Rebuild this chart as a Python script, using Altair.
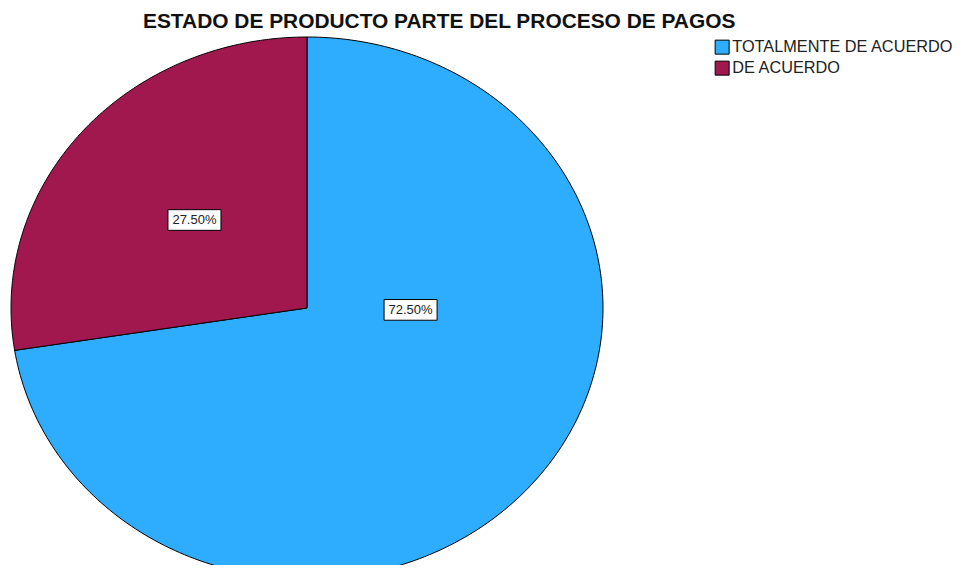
import altair as alt
import pandas as pd

categories = ["TOTALMENTE DE ACUERDO", "DE ACUERDO"]
values = [72.5, 27.5]
labels = ["72.50%", "27.50%"]
colors = ["#2EADFF", "#A0184E"]

df = pd.DataFrame({"category": categories, "value": values, "label": labels,
                   "order": list(range(len(categories)))})

FONT = "Liberation Sans"
PAD_TOP, PAD_RIGHT = 29, 8
W, H = 938, 557 - PAD_TOP
CX, CY, RX, RY = 299, 300 - PAD_TOP, 296, 271  # ellipse centre/radii in view pixels
xdom = [-CX / RX, (W - CX) / RX]
ydom = [-(H - CY) / RY, CY / RY]
xs = alt.Scale(domain=xdom, nice=False, zero=False)
ys = alt.Scale(domain=ydom, nice=False, zero=False)
N = 240

base = alt.Chart(df).transform_window(
    cum="sum(value)", sort=[{"field": "order"}], frame=[None, 0]
).transform_joinaggregate(total="sum(value)").transform_calculate(
    a0="2*PI*(datum.cum-datum.value)/datum.total",
    a1="2*PI*datum.cum/datum.total",
)

slices = base.transform_calculate(k=f"sequence(0, {N + 3})").transform_flatten(["k"]).transform_calculate(
    ang=f"datum.a0+(datum.a1-datum.a0)*clamp((datum.k-1)/{N},0,1)",
    rr=f"(datum.k==0||datum.k=={N + 2})?0:1",
).transform_calculate(
    px="datum.rr*sin(datum.ang)", py="datum.rr*cos(datum.ang)"
).mark_line(filled=True, stroke="black", strokeWidth=1, strokeJoin="round").encode(
    x=alt.X("px:Q", scale=xs, axis=None),
    y=alt.Y("py:Q", scale=ys, axis=None),
    order=alt.Order("k:Q"),
    detail="category:N",
    color=alt.Color(
        "category:N",
        scale=alt.Scale(domain=categories, range=colors),
        sort=categories,
        legend=alt.Legend(
            title=None, orient="none", legendX=706, legendY=31 - PAD_TOP,
            symbolType="square", symbolSize=196, symbolStrokeColor="black",
            symbolStrokeWidth=1, symbolOpacity=1,
            labelFontSize=16.3, labelFont=FONT, labelColor="#222222",
            labelOffset=2, labelLimit=400,
        ),
    ),
)

lab = base.transform_calculate(
    mid="(datum.a0+datum.a1)/2",
).transform_calculate(
    la="datum.value > 50 ? PI/2 + 0.02 : datum.mid",
    lr="datum.value > 50 ? 0.35 : 0.5",
).transform_calculate(
    lx="datum.lr*sin(datum.la)", ly="datum.lr*cos(datum.la)"
)

boxes = lab.mark_point(
    shape="M-1,-0.39L1,-0.39L1,0.39L-1,0.39Z", size=53 * 53, filled=True,
    fill="white", stroke="black", strokeWidth=1, opacity=1,
).encode(x=alt.X("lx:Q", scale=xs, axis=None), y=alt.Y("ly:Q", scale=ys, axis=None))

texts = lab.mark_text(font=FONT, fontSize=13, color="#222222").encode(
    x=alt.X("lx:Q", scale=xs, axis=None), y=alt.Y("ly:Q", scale=ys, axis=None), text="label:N"
)

chart = alt.layer(slices, boxes, texts).properties(
    width=W, height=H,
    autosize=alt.AutoSizeParams(type="none"),
    padding={"top": PAD_TOP, "left": 0, "right": PAD_RIGHT, "bottom": 0},
    title=alt.Title(
        "ESTADO DE PRODUCTO PARTE DEL PROCESO DE PAGOS",
        font=FONT, fontSize=20.9, fontWeight="bold", color="#111111",
        anchor="start", frame="group", dx=135, dy=21, offset=9, baseline="alphabetic",
    ),
).configure(background="white", view=alt.ViewConfig(stroke="transparent", strokeWidth=0))

chart.save("out.html", embed_options={"renderer": "svg", "actions": False})
